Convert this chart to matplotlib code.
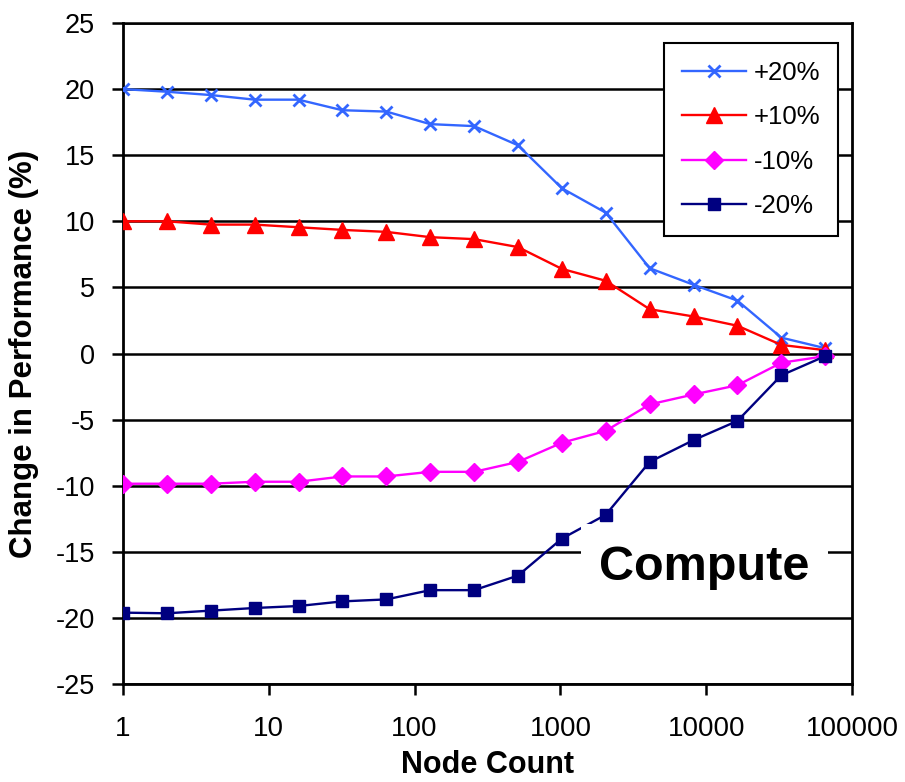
import matplotlib
matplotlib.use('Agg')
import matplotlib.pyplot as plt
from matplotlib.patches import Rectangle

plt.rcParams['font.family'] = ['Liberation Sans', 'DejaVu Sans']
plt.rcParams['axes.unicode_minus'] = False

# node counts (powers of two) and performance change per series
nodes = [1, 2, 4, 8, 16, 32, 64, 128, 256, 512, 1024, 2048, 4096, 8192, 16384, 32768, 65536]
plus20 = [20.0, 19.8, 19.55, 19.2, 19.2, 18.4, 18.3, 17.35, 17.2, 15.75,
          12.5, 10.65, 6.45, 5.2, 4.0, 1.2, 0.4]
plus10 = [10.0, 10.0, 9.75, 9.75, 9.55, 9.35, 9.2, 8.8, 8.65, 8.05,
          6.4, 5.5, 3.35, 2.8, 2.1, 0.65, 0.25]
minus10 = [-9.85, -9.85, -9.85, -9.7, -9.7, -9.3, -9.3, -8.95, -8.95, -8.2,
           -6.75, -5.85, -3.85, -3.1, -2.4, -0.7, -0.2]
minus20 = [-19.6, -19.65, -19.45, -19.25, -19.1, -18.75, -18.6, -17.9, -17.9, -16.8,
           -14.0, -12.2, -8.2, -6.55, -5.1, -1.65, -0.2]

fig = plt.figure(figsize=(9.05, 7.82), dpi=100)
ax = fig.add_axes([0.1359, 0.1253, 0.8055, 0.8453])

ax.plot(nodes, plus20, color='#3366FF', lw=1.7, marker='x', ms=9, mew=2, label='+20%', zorder=3)
ax.plot(nodes, plus10, color='#FF0000', lw=1.7, marker='^', ms=11, label='+10%', zorder=3)
ax.plot(nodes, minus10, color='#FF00FF', lw=1.7, marker='D', ms=9, label='-10%', zorder=3)
ax.plot(nodes, minus20, color='#000080', lw=1.7, marker='s', ms=9, label='-20%', zorder=3)

ax.set_xscale('log')
ax.set_xlim(1, 100000)
ax.set_ylim(-25, 25)
ax.set_xticks([1, 10, 100, 1000, 10000, 100000])
ax.set_xticklabels(['1', '10', '100', '1000', '10000', '100000'])
ax.minorticks_off()
ax.set_yticks(range(-25, 30, 5))

ax.yaxis.grid(True, color='black', lw=1.8)
ax.set_axisbelow(True)
for s in ['left', 'right', 'bottom']:
    ax.spines[s].set_linewidth(2)
ax.spines['top'].set_linewidth(1.8)

ax.tick_params(axis='y', labelsize=19.5, length=8, width=1.8, pad=12)
ax.tick_params(axis='x', labelsize=20, length=8, width=1.8, pad=15)

ax.set_xlabel('Node Count', fontsize=22, fontweight='bold', labelpad=6)
ax.set_ylabel('Change in Performance (%)', fontsize=22.5, fontweight='bold', labelpad=12)

leg = ax.legend(loc='upper right', bbox_to_anchor=(0.981, 0.970), borderaxespad=0,
                fontsize=18.5, fancybox=False, framealpha=1, edgecolor='black',
                handlelength=2.5, handletextpad=0.3, labelspacing=0.8,
                borderpad=0.7)
leg.get_frame().set_linewidth(1.5)

# white box behind the label, it hides part of the -20% line
ax.add_patch(Rectangle((0.628, 0.115), 0.339, 0.127, transform=ax.transAxes,
                       facecolor='white', edgecolor='none', zorder=4))
ax.text(0.797, 0.177, 'Compute', transform=ax.transAxes, fontsize=35,
        fontweight='bold', ha='center', va='center', zorder=5)

fig.savefig('out.png', dpi=100)
